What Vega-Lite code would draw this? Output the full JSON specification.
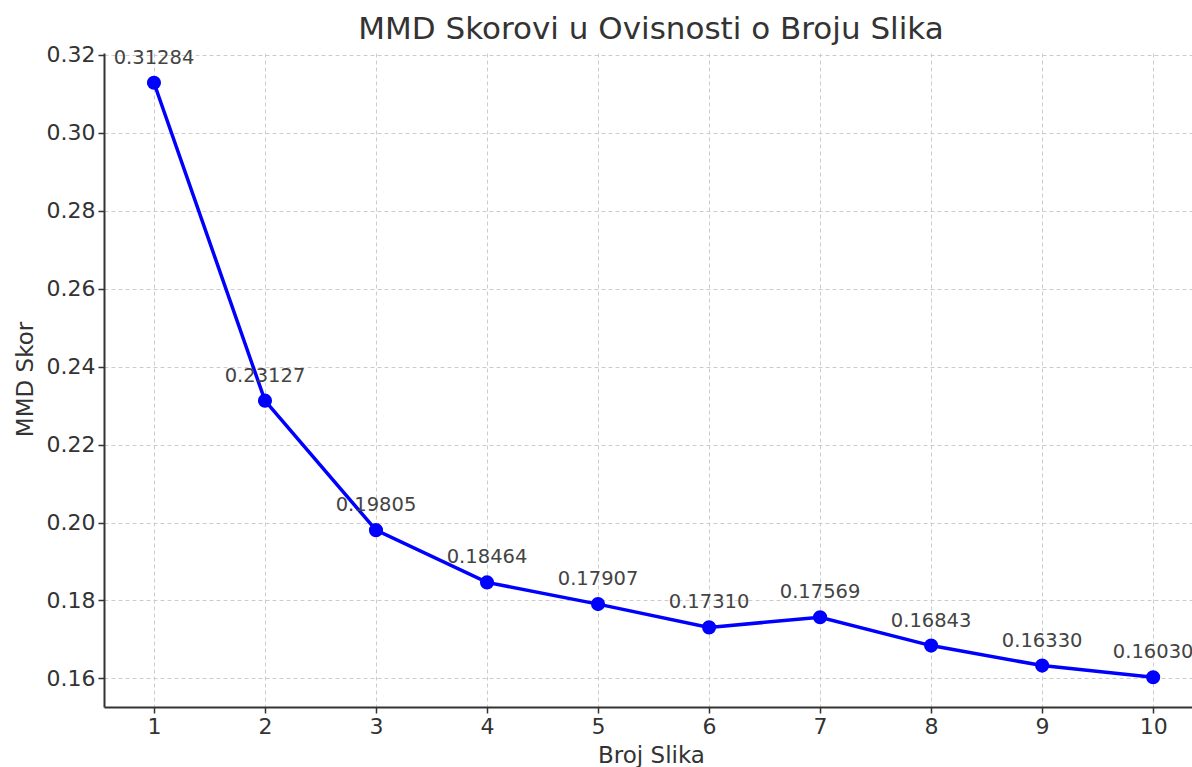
{
  "$schema": "https://vega.github.io/schema/vega-lite/v6.json",
  "width": 1088,
  "height": 654,
  "autosize": {"type": "none"},
  "padding": {"left": 104, "top": 53, "right": 0, "bottom": 60},
  "background": "white",
  "title": {
    "text": "MMD Skorovi u Ovisnosti o Broju Slika",
    "font": "DejaVu Sans",
    "fontSize": 31,
    "fontWeight": "normal",
    "color": "#333333",
    "anchor": "middle",
    "dx": 3,
    "dy": 12,
    "offset": 10
  },
  "config": {
    "view": {"stroke": null},
    "font": "DejaVu Sans"
  },
  "data": {
    "values": [
      {"broj": 1, "mmd": 0.31284, "label": "0.31284"},
      {"broj": 2, "mmd": 0.23127, "label": "0.23127"},
      {"broj": 3, "mmd": 0.19805, "label": "0.19805"},
      {"broj": 4, "mmd": 0.18464, "label": "0.18464"},
      {"broj": 5, "mmd": 0.17907, "label": "0.17907"},
      {"broj": 6, "mmd": 0.1731, "label": "0.17310"},
      {"broj": 7, "mmd": 0.17569, "label": "0.17569"},
      {"broj": 8, "mmd": 0.16843, "label": "0.16843"},
      {"broj": 9, "mmd": 0.1633, "label": "0.16330"},
      {"broj": 10, "mmd": 0.1603, "label": "0.16030"}
    ]
  },
  "encoding": {
    "x": {
      "field": "broj",
      "type": "quantitative",
      "scale": {"domain": [0.55, 10.35], "nice": false, "zero": false},
      "axis": {
        "title": "Broj Slika",
        "values": [1, 2, 3, 4, 5, 6, 7, 8, 9, 10],
        "format": "d",
        "titleFont": "DejaVu Sans",
        "titleFontSize": 23,
        "titleFontWeight": "normal",
        "titleColor": "#333333",
        "titleX": 547,
        "titleY": 55,
        "titleBaseline": "alphabetic",
        "labelFont": "DejaVu Sans",
        "labelFontSize": 22,
        "labelColor": "#333333",
        "labelPadding": 3,
        "tickSize": 6,
        "tickWidth": 1.5,
        "tickColor": "#333333",
        "domainColor": "#333333",
        "domainWidth": 2,
        "grid": true,
        "gridColor": "#cccccc",
        "gridDash": [4, 3],
        "gridWidth": 1
      }
    },
    "y": {
      "field": "mmd",
      "type": "quantitative",
      "scale": {"domain": [0.15267, 0.32047], "nice": false, "zero": false},
      "axis": {
        "title": "MMD Skor",
        "values": [0.16, 0.18, 0.2, 0.22, 0.24, 0.26, 0.28, 0.3, 0.32],
        "format": ".2f",
        "titleFont": "DejaVu Sans",
        "titleFontSize": 23,
        "titleFontWeight": "normal",
        "titleColor": "#333333",
        "titleX": -72,
        "titleY": 326,
        "titleAngle": 270,
        "titleBaseline": "alphabetic",
        "labelFont": "DejaVu Sans",
        "labelFontSize": 22,
        "labelColor": "#333333",
        "labelPadding": 3,
        "tickSize": 6,
        "tickWidth": 1.5,
        "tickColor": "#333333",
        "domainColor": "#333333",
        "domainWidth": 2,
        "grid": true,
        "gridColor": "#cccccc",
        "gridDash": [4, 3],
        "gridWidth": 1
      }
    }
  },
  "layer": [
    {"mark": {"type": "line", "color": "#0000ff", "strokeWidth": 3.5}},
    {"mark": {"type": "point", "filled": true, "color": "#0000ff", "opacity": 1, "size": 200}},
    {
      "mark": {"type": "text", "font": "DejaVu Sans", "fontSize": 19.5, "color": "#444444", "baseline": "alphabetic", "dy": -19},
      "encoding": {"text": {"field": "label"}}
    }
  ]
}
